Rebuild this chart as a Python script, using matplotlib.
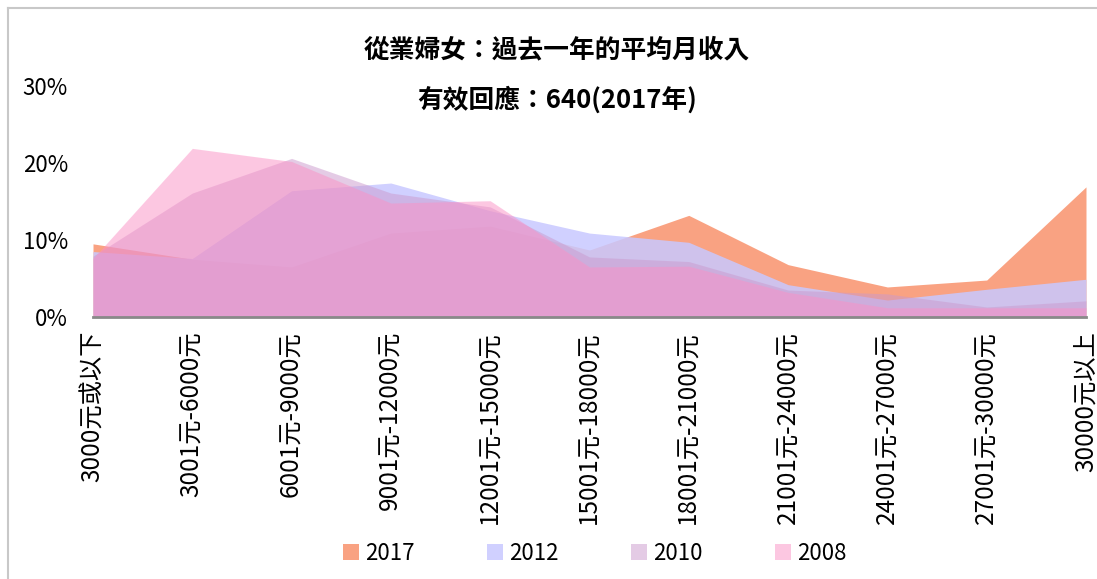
import matplotlib
matplotlib.use('Agg')
import matplotlib.pyplot as plt
from matplotlib.lines import Line2D

plt.rcParams['font.family'] = ['Noto Sans CJK TC', 'DejaVu Sans']

categories = ['3000元或以下', '3001元-6000元', '6001元-9000元', '9001元-12000元',
              '12001元-15000元', '15001元-18000元', '18001元-21000元',
              '21001元-24000元', '24001元-27000元', '27001元-30000元', '30000元以上']
years = ['2017', '2012', '2010', '2008']
v2017 = [9.5, 7.5, 6.5, 10.9, 11.8, 8.7, 13.2, 6.8, 3.9, 4.8, 16.9]
v2012 = [8.5, 7.6, 16.4, 17.4, 13.8, 10.9, 9.7, 4.2, 2.2, 3.6, 4.9]
v2010 = [7.9, 16.1, 20.6, 16.1, 14.3, 7.8, 7.2, 3.5, 3.0, 1.3, 2.1]
v2008 = [7.6, 21.9, 20.2, 14.8, 15.1, 6.5, 6.6, 3.2, 1.2, 1.2, 1.2]

colors = ['#F88358', '#C8C8FF', '#CB99CD', '#FB91C5']
alphas = [0.75, 0.85, 0.5, 0.5]


def main():
    fig = plt.figure(figsize=(10.97, 5.79), dpi=100)
    ax = fig.add_axes([93 / 1097, 1 - 317 / 579, (1086 - 93) / 1097, (317 - 86) / 579])
    xs = list(range(len(categories)))
    series = [v2017, v2012, v2010, v2008]
    handles = []
    for name, vals, c, a in zip(years, series, colors, alphas):
        ys = [v / 100 for v in vals]
        h = ax.fill_between(xs, 0, ys, color=c, alpha=a, linewidth=0, label=name)
        handles.append(h)

    ax.set_xlim(0, 10)
    ax.set_ylim(0, 0.30)
    ax.set_yticks([0, 0.1, 0.2, 0.3])
    ax.set_yticklabels(['0%', '10%', '20%', '30%'], fontsize=16)
    ax.set_xticks(xs)
    ax.set_xticklabels(categories, rotation=90, fontsize=17.5, va='top', ha='center')
    ax.tick_params(axis='y', length=0, pad=18, colors='#000000')
    ax.tick_params(axis='x', length=0, pad=10)
    for s in ['top', 'right', 'left']:
        ax.spines[s].set_visible(False)
    ax.spines['bottom'].set_color('#898989')
    ax.spines['bottom'].set_linewidth(2)

    fig.text(557 / 1097, 1 - 50 / 579, '從業婦女：過去一年的平均月收入', ha='center', va='center',
             fontsize=18.5, fontweight='bold')
    fig.text(557 / 1097, 1 - 100 / 579, '有效回應：640(2017年)', ha='center', va='center',
             fontsize=18.5, fontweight='bold')

    fig.legend(handles=handles, labels=years, loc='center', ncol=4,
               bbox_to_anchor=(595 / 1097, 1 - 553 / 579), frameon=False, fontsize=16,
               handlelength=0.7, handleheight=0.7, handletextpad=0.3, columnspacing=3.25)

    # outer frame (left and top edges)
    fig.add_artist(Line2D([8 / 1097, 8 / 1097], [0, 1 - 8 / 579], transform=fig.transFigure,
                          color='#C8C8C8', linewidth=1.5))
    fig.add_artist(Line2D([8 / 1097, 1], [1 - 8 / 579, 1 - 8 / 579], transform=fig.transFigure,
                          color='#C8C8C8', linewidth=1.5))

    fig.savefig('out.png', dpi=100)


if __name__ == "__main__":
    main()
